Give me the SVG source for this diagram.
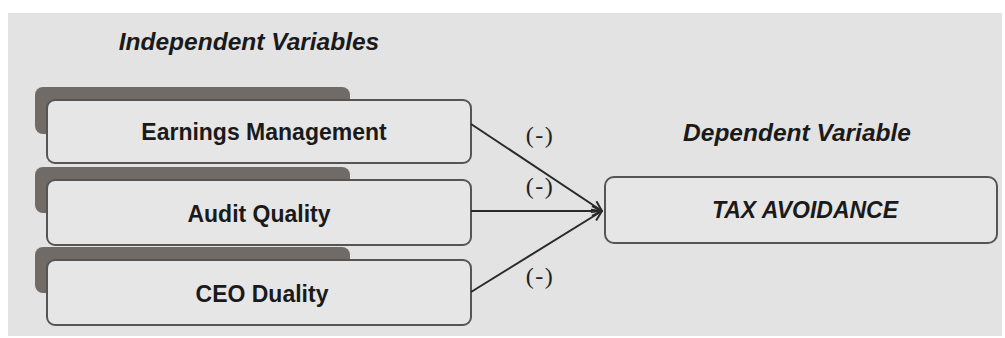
<svg xmlns="http://www.w3.org/2000/svg" width="1005" height="338" viewBox="0 0 1005 338">
<style>
.box{fill:#e6e6e6;stroke:#555;stroke-width:2}
.shadow{fill:#706b67}
.lbl{font-family:"Liberation Sans",Arial,sans-serif;font-weight:bold;font-size:23px;fill:#1a1a1a;text-anchor:middle}
.head{font-family:"Liberation Sans",Arial,sans-serif;font-weight:bold;font-style:italic;font-size:24.5px;fill:#1a1a1a;text-anchor:middle}
.sign{font-family:"Liberation Serif","Times New Roman",serif;font-size:24px;fill:#222;text-anchor:middle;letter-spacing:1.5px}
.conn{stroke:#2a2a2a;stroke-width:2;fill:none}
</style>
<defs>
<marker id="arr" viewBox="0 0 12 12" refX="11" refY="6" markerWidth="12" markerHeight="12" markerUnits="userSpaceOnUse" orient="auto">
<path d="M1,1 L11,6 L1,11" fill="none" stroke="#2a2a2a" stroke-width="2"/>
</marker>
</defs>
<rect x="8" y="13" width="994" height="323" fill="#e3e3e3"/>
<text class="head" x="249" y="50">Independent Variables</text>
<text class="head" x="797" y="141">Dependent Variable</text>
<g id="earnings">
<rect class="shadow" x="35" y="87" width="315" height="47" rx="8"/>
<rect class="box" x="47" y="100" width="424" height="63" rx="8"/>
<text class="lbl" x="264" y="140">Earnings Management</text>
</g>
<g id="audit">
<rect class="shadow" x="35" y="167" width="315" height="46" rx="8"/>
<rect class="box" x="47" y="180" width="424" height="65" rx="8"/>
<text class="lbl" x="259" y="222">Audit Quality</text>
</g>
<g id="ceo">
<rect class="shadow" x="35" y="247" width="315" height="46" rx="8"/>
<rect class="box" x="47" y="260" width="424" height="65" rx="8"/>
<text class="lbl" x="262" y="302">CEO Duality</text>
</g>
<g id="tax">
<rect class="box" x="605" y="177" width="392" height="66" rx="9"/>
<text class="lbl" x="805" y="218" font-style="italic">TAX AVOIDANCE</text>
</g>
<g id="connectors">
<line class="conn" x1="471" y1="124" x2="602" y2="211" marker-end="url(#arr)"/>
<line class="conn" x1="471" y1="211" x2="602" y2="211" marker-end="url(#arr)"/>
<line class="conn" x1="471" y1="292" x2="602" y2="211" marker-end="url(#arr)"/>
<text class="sign" x="540" y="143">(-)</text>
<text class="sign" x="540" y="194">(-)</text>
<text class="sign" x="540" y="284">(-)</text>
</g>
</svg>
